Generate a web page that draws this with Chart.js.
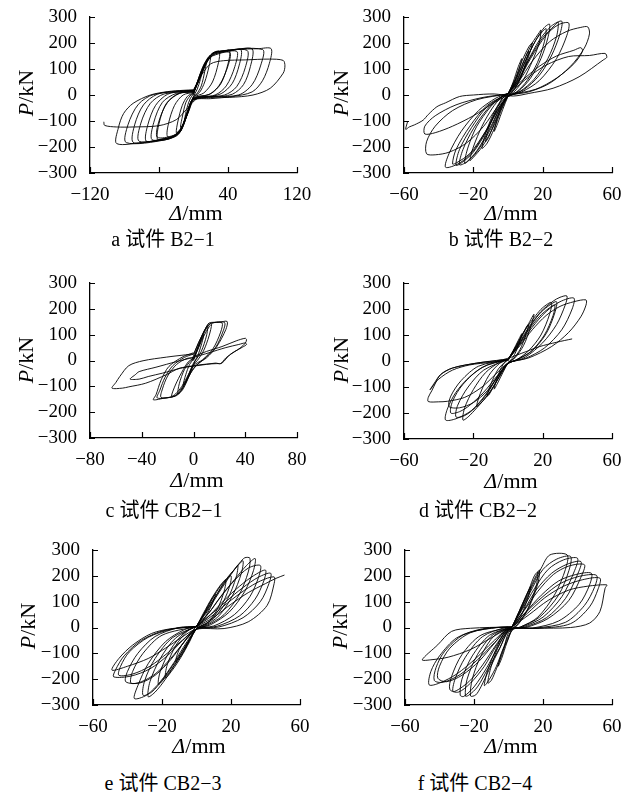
<!DOCTYPE html>
<html>
<head>
<meta charset="utf-8">
<script src="https://cdn.jsdelivr.net/npm/chart.js@4.4.1/dist/chart.umd.min.js"></script>
<style>
  body { margin: 0; background: #fff; width: 631px; height: 802px; position: relative; overflow: hidden;
         font-family: "Liberation Serif", "Noto Sans CJK SC", serif; color: #000; }
  canvas { position: absolute; }
  .yt { position: absolute; font-size: 22px; transform: translate(-50%, -50%) rotate(-90deg); white-space: nowrap; }
  .xt { position: absolute; font-size: 22px; transform: translate(-50%, -50%); white-space: nowrap; }
  .cap { position: absolute; font-size: 20px; transform: translate(-50%, -50%); white-space: nowrap; }
</style>
</head>
<body>
<canvas id="ca" width="315" height="205" style="left:0;top:0"></canvas>
<canvas id="cb" width="316" height="205" style="left:315px;top:0"></canvas>
<canvas id="cc" width="315" height="205" style="left:0;top:265px"></canvas>
<canvas id="cd" width="316" height="205" style="left:315px;top:265px"></canvas>
<canvas id="ce" width="315" height="205" style="left:0;top:530px"></canvas>
<canvas id="cf" width="316" height="205" style="left:315px;top:530px"></canvas>

<div class="yt" style="left:26px;top:93px"><i>P</i>/kN</div>
<div class="yt" style="left:341px;top:93px"><i>P</i>/kN</div>
<div class="yt" style="left:26px;top:360px"><i>P</i>/kN</div>
<div class="yt" style="left:341px;top:360px"><i>P</i>/kN</div>
<div class="yt" style="left:28px;top:626px"><i>P</i>/kN</div>
<div class="yt" style="left:340px;top:626px"><i>P</i>/kN</div>

<div class="xt" style="left:196px;top:213px"><i>Δ</i>/mm</div>
<div class="xt" style="left:511px;top:213px"><i>Δ</i>/mm</div>
<div class="xt" style="left:197px;top:480px"><i>Δ</i>/mm</div>
<div class="xt" style="left:511px;top:481px"><i>Δ</i>/mm</div>
<div class="xt" style="left:199px;top:746px"><i>Δ</i>/mm</div>
<div class="xt" style="left:511px;top:746px"><i>Δ</i>/mm</div>

<div class="cap" style="left:163px;top:237px">a 试件 B2−1</div>
<div class="cap" style="left:501px;top:237px">b 试件 B2−2</div>
<div class="cap" style="left:164px;top:508px">c 试件 CB2−1</div>
<div class="cap" style="left:478px;top:508px">d 试件 CB2−2</div>
<div class="cap" style="left:163px;top:781px">e 试件 CB2−3</div>
<div class="cap" style="left:475px;top:781px">f 试件 CB2−4</div>

<script>
// hysteresis loops, [displacement mm, load kN]
const loopsB21 = [
  [[0,0],[3,35],[7,75],[10,95],[8,60],[4,20],[0,-5],[-3,-40],[-7,-75],[-10,-92],[-8,-55],[-4,-15],[0,5]],
  [[0,6],[5,50],[10,100],[15,130],[13,90],[9,35],[4,5],[0,-6],[-5,-50],[-10,-100],[-15,-125],[-13,-85],[-9,-30],[-4,-3],[0,6]],
  [[0,5],[5,55],[11,110],[17,145],[20,152],[18,110],[13,50],[7,10],[0,-8],[-5,-55],[-11,-108],[-17,-138],[-20,-145],[-18,-100],[-13,-40],[-7,-5],[0,8]],
  [[0,8],[6,60],[13,120],[20,155],[24,165],[30,168],[29,125],[22,50],[12,8],[0,-10],[-6,-60],[-12,-120],[-18,-150],[-30,-160],[-29,-110],[-22,-40],[-12,0],[0,10]],
  [[0,10],[7,65],[15,130],[23,162],[35,168],[42,172],[40,120],[32,45],[20,5],[0,-14],[-7,-70],[-14,-135],[-22,-160],[-35,-168],[-42,-170],[-40,-110],[-32,-35],[-18,5],[0,14]],
  [[0,8],[7,60],[15,122],[23,155],[42,163],[40,112],[30,38],[18,2],[0,-12],[-7,-65],[-14,-128],[-23,-155],[-42,-162],[-40,-100],[-30,-28],[-16,6],[0,12]],
  [[0,10],[7,62],[14,118],[22,150],[50,168],[48,110],[38,35],[25,0],[0,-14],[-7,-66],[-14,-128],[-24,-158],[-48,-172],[-46,-105],[-36,-28],[-20,6],[0,12]],
  [[0,12],[8,72],[16,138],[25,165],[40,170],[55,174],[53,115],[45,45],[32,5],[12,-10],[0,-16],[-8,-75],[-15,-138],[-25,-163],[-40,-172],[-55,-177],[-53,-115],[-44,-40],[-30,3],[-12,14],[0,16]],
  [[0,12],[8,70],[16,132],[26,160],[62,172],[60,105],[50,32],[36,0],[0,-16],[-8,-72],[-16,-138],[-28,-165],[-63,-178],[-61,-108],[-50,-32],[-34,4],[0,15]],
  [[0,14],[8,75],[17,140],[25,163],[45,172],[68,177],[66,110],[58,40],[45,3],[20,-10],[0,-18],[-8,-78],[-16,-142],[-28,-168],[-45,-176],[-70,-182],[-68,-112],[-58,-38],[-42,3],[-20,15],[0,18]],
  [[0,14],[8,75],[17,140],[28,166],[80,175],[78,115],[68,40],[52,0],[0,-18],[-8,-78],[-17,-145],[-32,-172],[-78,-183],[-76,-115],[-64,-36],[-46,2],[0,18]],
  [[0,16],[9,80],[18,145],[26,165],[50,175],[75,178],[90,178],[88,122],[80,55],[68,12],[45,-6],[20,-14],[0,-20],[-8,-80],[-17,-150],[-30,-170],[-55,-180],[-89,-187],[-87,-125],[-81,-71],[-70,-32],[-50,0],[-30,13],[-12,18],[0,20]],
  [[0,20],[10,80],[20,120],[35,132],[60,135],[88,138],[104,133],[106,112],[104,84],[89,26],[69,0],[42,-9],[7,-9],[-8,-55],[-20,-95],[-40,-118],[-70,-123],[-89,-123],[-103,-117],[-104,-103]]
];

const loopsB22 = [
  [[0,0],[3,50],[6,110],[8,140],[6,90],[3,35],[0,-5],[-3,-55],[-6,-110],[-8,-140],[-6,-85],[-3,-30],[0,5]],
  [[0,4],[4,50],[8,110],[11,160],[12,170],[10,120],[7,60],[3,15],[0,-4],[-4,-50],[-8,-110],[-11,-160],[-13,-180],[-11,-125],[-7,-60],[-3,-12],[0,4]],
  [[0,5],[4,60],[8,130],[12,185],[14,200],[12,150],[8,80],[4,25],[0,-5],[-4,-60],[-8,-130],[-12,-185],[-15,-205],[-13,-150],[-9,-80],[-4,-20],[0,5]],
  [[0,5],[4,55],[9,130],[14,200],[18,240],[19,250],[18,200],[14,130],[9,60],[4,15],[0,-5],[-4,-55],[-9,-130],[-15,-200],[-20,-240],[-22,-252],[-20,-200],[-15,-120],[-9,-50],[-4,-10],[0,5]],
  [[0,5],[5,55],[10,130],[16,210],[20,245],[22,255],[21,205],[17,125],[11,55],[5,12],[0,-5],[-5,-55],[-10,-130],[-17,-210],[-22,-248],[-25,-262],[-23,-200],[-18,-120],[-10,-45],[-4,-8],[0,5]],
  [[0,6],[5,55],[10,130],[16,210],[21,260],[24,272],[23,220],[19,140],[13,65],[6,15],[0,-5],[-5,-55],[-11,-135],[-18,-215],[-24,-258],[-28,-268],[-26,-210],[-20,-130],[-12,-55],[-5,-12],[0,6]],
  [[0,6],[6,55],[12,135],[20,220],[27,268],[29,280],[28,225],[23,140],[15,60],[7,14],[0,-6],[-6,-55],[-12,-135],[-20,-220],[-27,-262],[-30,-270],[-28,-210],[-21,-125],[-12,-45],[0,6]],
  [[0,6],[5,50],[11,125],[18,210],[25,265],[31,284],[30,235],[25,150],[18,75],[9,20],[0,-6],[-5,-50],[-12,-130],[-20,-215],[-28,-262],[-36,-278],[-34,-225],[-27,-140],[-17,-60],[-7,-12],[0,6]],
  [[0,5],[6,55],[13,140],[22,230],[29,270],[35,277],[34,230],[28,140],[18,55],[8,12],[0,-6],[-6,-55],[-13,-140],[-22,-225],[-30,-262],[-32,-265],[-30,-210],[-22,-120],[-12,-40],[0,5]],
  [[0,6],[6,50],[14,130],[24,205],[34,245],[42,260],[46,262],[47,235],[44,180],[36,110],[24,45],[12,12],[0,-4],[-6,-45],[-14,-120],[-24,-185],[-34,-220],[-42,-230],[-47,-226],[-47,-180],[-42,-120],[-32,-60],[-18,-18],[0,4]],
  [[0,6],[8,55],[18,110],[28,150],[38,172],[42,182],[43,168],[38,120],[28,65],[16,22],[0,-2],[-8,-30],[-20,-80],[-32,-120],[-42,-145],[-48,-150],[-48,-120],[-42,-80],[-30,-38],[-15,-10],[0,4]],
  [[0,4],[3,19],[12,70],[22,115],[35,148],[47,152],[56,160],[57,145],[55,135],[41,70],[26,26],[12,6],[3,-4],[-8,4],[-20,0],[-28,-6],[-36,-30],[-41,-45],[-46,-75],[-49,-97],[-54,-115],[-57,-123],[-59,-132],[-58,-104]]
];

const loopsCB21 = [
  [[0,0],[3,40],[6,80],[8,100],[6,60],[3,15],[0,-10],[-3,-45],[-6,-80],[-8,-95],[-6,-55],[-3,-15],[0,5]],
  [[0,5],[4,60],[8,110],[11,135],[10,95],[6,35],[1,-5],[-3,-55],[-8,-110],[-12,-130],[-11,-90],[-7,-35],[-2,0],[0,5]],
  [[0,5],[4,50],[8,95],[12,130],[14,140],[12,95],[8,40],[3,0],[0,-15],[-4,-55],[-9,-100],[-14,-130],[-17,-138],[-14,-95],[-9,-45],[-4,-5],[0,8]],
  [[0,10],[5,70],[9,115],[13,142],[22,146],[21,110],[15,45],[7,3],[0,-20],[-5,-75],[-10,-120],[-14,-138],[-25,-143],[-24,-110],[-20,-60],[-13,-15],[-5,8],[0,10]],
  [[-1,5],[4,70],[9,120],[12,145],[20,148],[26,151],[25,120],[18,54],[10,10],[4,-10],[-1,-40],[-7,-90],[-11,-120],[-15,-138],[-22,-145],[-31,-152],[-29,-133],[-25,-75],[-19,-23],[-8,15],[0,30]],
  [[0,25],[5,80],[10,130],[14,145],[24,147],[23,115],[17,50],[8,5],[0,-30],[-6,-85],[-11,-125],[-16,-140],[-28,-145],[-26,-115],[-22,-65],[-16,-20],[-7,12],[0,25]],
  [[0,15],[10,35],[22,54],[33,76],[40,86],[41,80],[40,67],[36,48],[28,22],[22,-10],[18,-12],[10,-14],[0,-20],[-10,-30],[-24,-49],[-35,-62],[-42,-72],[-49,-72],[-45,-55],[-42,-43],[-29,-26],[-13,-4],[0,12]],
  [[0,12],[12,30],[25,50],[35,62],[40,68],[41,62],[38,52],[32,35],[25,10],[21,-12],[17,-10],[10,-15],[0,-22],[-11,-30],[-21,-55],[-37,-88],[-50,-102],[-55,-107],[-63,-107],[-60,-85],[-57,-62],[-50,-20],[-39,-1],[-21,13],[-6,22],[0,25]]
];

const loopsCB22 = [
  [[0,0],[3,40],[6,80],[8,105],[6,60],[3,15],[0,-8],[-3,-45],[-6,-85],[-8,-108],[-6,-60],[-3,-15],[0,5]],
  [[0,5],[4,45],[8,95],[11,135],[12,140],[10,95],[7,45],[3,8],[0,-6],[-4,-45],[-8,-95],[-11,-130],[-12,-135],[-10,-90],[-6,-35],[-2,-5],[0,5]],
  [[0,5],[4,50],[8,100],[12,145],[15,180],[13,130],[9,60],[4,12],[0,-8],[-4,-50],[-9,-105],[-14,-150],[-18,-175],[-16,-125],[-11,-55],[-5,-10],[0,6]],
  [[0,6],[5,60],[10,120],[16,175],[20,205],[25,225],[24,180],[19,100],[12,40],[5,5],[0,-10],[-5,-60],[-11,-125],[-18,-180],[-23,-215],[-26,-227],[-25,-180],[-20,-110],[-13,-45],[-5,-5],[0,8]],
  [[0,6],[6,60],[12,125],[18,180],[23,210],[28,228],[27,185],[22,105],[14,40],[5,4],[0,-9],[-6,-60],[-12,-125],[-19,-180],[-25,-210],[-30,-215],[-29,-170],[-23,-100],[-14,-35],[0,6]],
  [[0,8],[6,65],[12,130],[19,190],[26,230],[30,245],[34,250],[33,215],[28,140],[20,70],[10,15],[0,-10],[-6,-60],[-13,-130],[-21,-190],[-30,-222],[-36,-227],[-35,-185],[-30,-120],[-22,-60],[-12,-15],[0,6]],
  [[0,6],[7,65],[14,130],[22,190],[30,228],[38,242],[37,200],[31,120],[21,50],[10,10],[0,-8],[-6,-55],[-14,-120],[-22,-170],[-28,-195],[-33,-200],[-32,-155],[-26,-90],[-15,-25],[0,6]],
  [[0,6],[6,60],[12,120],[18,170],[24,205],[27,215],[26,175],[21,100],[13,35],[4,2],[0,-8],[-6,-60],[-12,-115],[-20,-160],[-28,-180],[-34,-175],[-33,-135],[-27,-75],[-17,-20],[0,6]],
  [[0,6],[7,60],[14,120],[22,175],[30,210],[38,228],[45,235],[45,215],[42,170],[35,110],[25,55],[12,12],[0,-8],[-7,-50],[-15,-100],[-25,-140],[-35,-155],[-40,-157],[-46,-156],[-46,-140],[-44,-115],[-39,-53],[-32,-27],[-18,-8],[-3,5],[0,6]],
  [[0,5],[-10,-5],[-22,-15],[-32,-35],[-40,-70],[-45,-111],[-42,-80],[-39,-53],[-32,-27],[-18,-8],[-3,5],[8,30],[18,55],[28,72],[37,85]]
];

const loopsCB23 = [
  [[0,0],[4,50],[8,100],[11,130],[9,90],[5,40],[0,-5],[-4,-50],[-8,-100],[-12,-130],[-10,-85],[-5,-35],[0,5]],
  [[0,4],[4,55],[9,115],[14,165],[17,185],[16,140],[12,70],[6,15],[0,-4],[-4,-55],[-9,-115],[-14,-165],[-18,-195],[-17,-145],[-12,-70],[-5,-12],[0,4]],
  [[0,5],[5,60],[10,120],[15,170],[20,200],[19,155],[14,80],[7,20],[0,-5],[-5,-60],[-10,-120],[-16,-175],[-22,-220],[-21,-170],[-15,-85],[-7,-20],[0,5]],
  [[0,5],[5,55],[11,120],[17,185],[22,225],[24,241],[23,195],[18,110],[10,35],[0,-5],[-5,-55],[-11,-125],[-18,-200],[-24,-250],[-28,-268],[-27,-210],[-21,-120],[-12,-40],[0,5]],
  [[0,5],[5,58],[12,130],[19,200],[24,240],[27,258],[26,210],[21,125],[13,45],[4,4],[0,-5],[-5,-58],[-12,-130],[-20,-205],[-26,-250],[-31,-262],[-30,-205],[-24,-120],[-14,-40],[0,5]],
  [[0,5],[6,60],[13,135],[20,205],[25,250],[28,270],[31,268],[30,215],[25,130],[16,50],[6,8],[0,-5],[-6,-60],[-13,-135],[-21,-210],[-29,-262],[-36,-275],[-34,-225],[-28,-140],[-18,-55],[-7,-8],[0,5]],
  [[0,5],[7,55],[14,120],[22,185],[29,240],[34,267],[33,220],[28,140],[19,60],[8,10],[0,-5],[-7,-55],[-15,-125],[-24,-185],[-33,-215],[-41,-210],[-40,-170],[-34,-100],[-24,-35],[-10,0],[0,4]],
  [[0,5],[7,55],[14,118],[22,182],[30,230],[37,240],[36,195],[31,120],[22,50],[10,6],[0,-5],[-7,-55],[-15,-120],[-24,-180],[-32,-210],[-38,-215],[-37,-170],[-31,-100],[-20,-30],[0,4]],
  [[0,4],[8,50],[16,105],[25,160],[33,200],[40,222],[39,180],[34,110],[25,45],[12,5],[0,-6],[-8,-50],[-17,-110],[-27,-160],[-38,-188],[-48,-191],[-47,-165],[-42,-110],[-32,-50],[-18,-10],[0,4]],
  [[0,4],[8,48],[17,100],[27,155],[36,195],[43,210],[42,170],[37,100],[27,38],[13,2],[0,-6],[-8,-48],[-17,-100],[-27,-150],[-37,-180],[-45,-185],[-44,-150],[-39,-95],[-28,-38],[-14,-6],[0,4]],
  [[0,4],[9,45],[18,95],[28,145],[37,180],[45,196],[45,170],[41,86],[30,22],[16,-4],[0,-6],[-9,-40],[-18,-80],[-28,-120],[-40,-150],[-49,-165],[-45,-120],[-37,-68],[-26,-23],[-14,-4],[0,2]],
  [[0,2],[10,40],[20,90],[30,135],[40,170],[46,190],[51,203]]
];

const loopsCB24 = [
  [[2,0],[6,60],[10,120],[13,160],[11,110],[7,40],[2,-10],[-1,-60],[-4,-120],[-6,-150],[-4,-100],[0,-40],[2,0]],
  [[2,1],[7,75],[12,150],[15,200],[17,215],[16,160],[11,70],[5,10],[0,-20],[-3,-90],[-7,-160],[-10,-205],[-12,-215],[-10,-150],[-5,-60],[0,-10],[2,1]],
  [[2,0],[7,70],[12,145],[16,200],[18,223],[17,170],[12,80],[6,15],[1,-20],[-3,-80],[-7,-150],[-11,-200],[-14,-225],[-12,-165],[-7,-80],[-2,-15],[2,0]],
  [[2,2],[8,80],[14,165],[19,230],[24,281],[34,281],[33,225],[27,130],[17,40],[7,2],[0,-15],[-5,-80],[-11,-160],[-16,-230],[-19,-261],[-22,-265],[-21,-200],[-16,-110],[-8,-30],[2,2]],
  [[2,2],[8,75],[14,155],[20,225],[28,265],[36,275],[35,220],[29,125],[18,40],[7,2],[0,-12],[-5,-78],[-12,-160],[-18,-230],[-23,-262],[-25,-265],[-24,-200],[-18,-105],[-9,-28],[2,2]],
  [[2,2],[8,70],[15,150],[23,225],[32,262],[40,268],[38,215],[31,120],[20,40],[8,2],[0,-10],[-6,-75],[-13,-160],[-20,-230],[-26,-267],[-28,-262],[-27,-200],[-21,-110],[-11,-30],[2,2]],
  [[2,2],[9,68],[16,145],[25,210],[34,245],[42,255],[40,205],[33,112],[22,38],[9,1],[0,-9],[-7,-70],[-14,-150],[-22,-215],[-29,-250],[-34,-240],[-33,-190],[-27,-105],[-16,-30],[2,2]],
  [[2,2],[9,65],[17,140],[26,205],[35,238],[44,243],[42,195],[35,105],[23,35],[10,0],[0,-8],[-7,-65],[-15,-145],[-23,-210],[-32,-248],[-31,-200],[-25,-115],[-15,-35],[-2,0],[2,2]],
  [[2,2],[10,60],[19,125],[29,180],[39,205],[48,210],[47,165],[41,90],[29,25],[14,-2],[0,-6],[-8,-60],[-17,-130],[-27,-185],[-36,-210],[-41,-196],[-40,-150],[-34,-80],[-22,-20],[-6,0],[2,2]],
  [[2,2],[10,58],[20,120],[30,170],[41,198],[51,202],[50,158],[44,85],[33,20],[16,-2],[0,-6],[-8,-58],[-18,-125],[-28,-182],[-38,-212],[-43,-205],[-42,-155],[-37,-92],[-26,-28],[-10,-2],[2,2]],
  [[2,2],[11,55],[21,115],[32,160],[43,185],[53,191],[52,150],[47,80],[36,15],[18,-3],[0,-6],[-9,-55],[-19,-120],[-30,-180],[-40,-215],[-46,-222],[-45,-170],[-40,-110],[-30,-40],[-15,-5],[2,2]],
  [[2,2],[12,50],[23,105],[35,145],[46,160],[57,165],[56,152],[53,62],[47,17],[36,0],[16,-3],[0,-6],[-10,-40],[-22,-85],[-35,-115],[-45,-125],[-50,-125],[-41,-67],[-33,-15],[-22,-3],[0,2]]
];

const xTicksWide = [-120, 120, 80];   // min, max, step for B2-1
const xTicksMid = [-80, 80, 40];      // CB2-1
const xTicksStd = [-60, 60, 40];      // the others
const yTicks = [-300, 300, 100];

const serif = '"Liberation Serif", "Times New Roman", serif';

// short tick marks pointing into the plot, like the figure
const innerTicks = {
  id: 'innerTicks',
  afterDraw(chart) {
    const { ctx, chartArea: a, scales: { x, y } } = chart;
    ctx.save();
    ctx.strokeStyle = '#000';
    ctx.lineWidth = 1.2;
    ctx.beginPath();
    x.ticks.forEach(t => {
      const px = Math.round(x.getPixelForValue(t.value)) + 0.5;
      ctx.moveTo(px, a.bottom);
      ctx.lineTo(px, a.bottom - 6);
    });
    y.ticks.forEach(t => {
      const py = Math.round(y.getPixelForValue(t.value)) + 0.5;
      ctx.moveTo(a.left, py);
      ctx.lineTo(a.left + 5, py);
    });
    ctx.stroke();
    ctx.restore();
  }
};

const minus = v => (v < 0 ? '\u2212' + Math.abs(v) : String(v));

function makeChart(id, loops, xr, box) {
  const canvas = document.getElementById(id);
  return new Chart(canvas, {
    type: 'scatter',
    data: {
      datasets: loops.map(l => ({
        data: l.map(p => ({ x: p[0], y: p[1] })),
        showLine: true,
        borderColor: '#000',
        borderWidth: 0.9,
        pointRadius: 0,
        tension: 0.3,
      })),
    },
    options: {
      responsive: false,
      animation: false,
      events: [],
      layout: { padding: { left: 0, top: box.top, right: box.right, bottom: 0 } },
      plugins: { legend: { display: false }, tooltip: { enabled: false } },
      scales: {
        x: {
          type: 'linear',
          min: xr[0], max: xr[1],
          ticks: { stepSize: xr[2], color: '#000', padding: 3, maxRotation: 0,
                   font: { family: serif, size: 19 }, callback: minus },
          grid: { display: false },
          border: { display: true, color: '#000', width: 1.3 },
          afterFit: s => { s.height = canvas.height - box.bottom; },
        },
        y: {
          type: 'linear',
          min: yTicks[0], max: yTicks[1],
          ticks: { stepSize: yTicks[2], color: '#000', padding: 5,
                   font: { family: serif, size: 19 }, callback: minus },
          grid: { display: false },
          border: { display: true, color: '#000', width: 1.3 },
          afterFit: s => { s.width = box.left; },
        },
      },
    },
    plugins: [innerTicks],
  });
}

makeChart('ca', loopsB21, xTicksWide, { left: 90, top: 17, right: 18, bottom: 173 });
makeChart('cb', loopsB22, xTicksStd, { left: 89, top: 17, right: 19, bottom: 173 });
makeChart('cc', loopsCB21, xTicksMid, { left: 90, top: 18, right: 18, bottom: 173 });
makeChart('cd', loopsCB22, xTicksStd, { left: 89, top: 18, right: 19, bottom: 174 });
makeChart('ce', loopsCB23, xTicksStd, { left: 93, top: 20, right: 15, bottom: 175 });
makeChart('cf', loopsCB24, xTicksStd, { left: 90, top: 20, right: 19, bottom: 175 });
</script>
</body>
</html>
